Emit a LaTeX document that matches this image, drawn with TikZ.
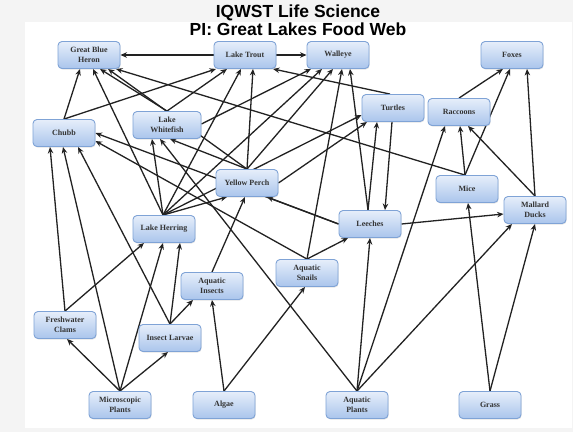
\documentclass[tikz,border=0pt]{standalone}
\usepackage{fontspec}
\setmainfont{Liberation Serif}
\newfontfamily\titlefont{Liberation Sans}
\usetikzlibrary{arrows.meta,shadows}
\definecolor{boxtop}{HTML}{E6EEFA}
\definecolor{boxbot}{HTML}{AAC5EC}
\definecolor{boxline}{HTML}{7FA3D6}
\definecolor{edgecol}{HTML}{222222}
\definecolor{txtcol}{HTML}{333333}
\definecolor{outside}{HTML}{F4F4F4}
\pgfdeclarelayer{back}
\pgfdeclarelayer{edges}
\pgfsetlayers{back,edges,main}
\begin{document}
\begin{tikzpicture}[x=1pt,y=-1pt,
  sp/.style={draw=boxline, line width=0.9pt, rounded corners=4pt,
    top color=boxtop, bottom color=boxbot, minimum width=62pt, minimum height=27pt,
    inner sep=1pt, align=center, font=\fontsize{8}{9.5}\selectfont\bfseries, text=txtcol,
    drop shadow={opacity=0.22, shadow xshift=0.6pt, shadow yshift=-1pt}},
  eat/.style={draw=edgecol, line width=1.3pt, -{Stealth[length=6.5pt,width=5.5pt]}},
  ttl/.style={anchor=base, font=\titlefont\bfseries\fontsize{17.5}{21}\selectfont, text=black}
]
\begin{pgfonlayer}{back}
\fill[outside] (0,0) rectangle (573,432);
\fill[white] (25,22) rectangle (572,428);
\end{pgfonlayer}
\useasboundingbox (0,0) rectangle (573,432);

\node[ttl] (t1) at (298,17) {IQWST Life Science};
\node[ttl] (t2) at (298,35) {PI: Great Lakes Food Web};

% nodes
\node[sp] (gbh) at (89,55) {Great Blue\\Heron};
\node[sp] (lt) at (245,55) {Lake Trout};
\node[sp] (wal) at (338,55) {Walleye};
\node[sp] (fox) at (512,55) {Foxes};
\node[sp] (chubb) at (64,133) {Chubb};
\node[sp, minimum width=68pt] (lw) at (167,125) {Lake\\Whitefish};
\node[sp] (tur) at (393,108) {Turtles};
\node[sp] (rac) at (459,112) {Raccoons};
\node[sp] (yp) at (247,183) {Yellow Perch};
\node[sp] (mice) at (467,189) {Mice};
\node[sp] (mal) at (535,210) {Mallard\\Ducks};
\node[sp] (leech) at (370,224) {Leeches};
\node[sp] (lh) at (164,229) {Lake Herring};
\node[sp] (snail) at (307,273) {Aquatic\\Snails};
\node[sp] (ai) at (212,286) {Aquatic\\Insects};
\node[sp] (fc) at (65,325) {Freshwater\\Clams};
\node[sp] (il) at (170,338) {Insect Larvae};
\node[sp] (mp) at (120,405) {Microscopic\\Plants};
\node[sp] (alg) at (224,405) {Algae};
\node[sp] (ap) at (357,405) {Aquatic\\Plants};
\node[sp] (grass) at (490,405) {Grass};

\begin{pgfonlayer}{edges}
% top row
\draw[eat] (lt.west) -- (gbh.east);
\draw[eat] (lt.east) -- (wal.west);
% into Great Blue Heron
\draw[eat] (chubb.north) -- ([xshift=-9pt]gbh.south);
\draw[eat] ([xshift=-1pt]lh.north) -- ([xshift=4pt]gbh.south);
\draw[eat] (lw.north) -- ([xshift=11pt]gbh.south);
\draw[eat] (yp.north) -- ([xshift=19pt]gbh.south);
\draw[eat] ([xshift=-2pt]mice.north) -- ([xshift=27pt]gbh.south);
% into Lake Trout
\draw[eat] (chubb.north) -- ([xshift=-29pt]lt.south);
\draw[eat] (lw.north) -- ([xshift=-18pt]lt.south);
\draw[eat] ([xshift=-1pt]lh.north) -- ([xshift=-4pt]lt.south);
\draw[eat] (yp.north) -- ([xshift=8pt]lt.south);
\draw[eat] ([xshift=-3pt]tur.north) -- ([xshift=28pt]lt.south);
% into Walleye
\draw[eat] ([yshift=1pt]lw.east) -- ([xshift=-27pt]wal.south);
\draw[eat] ([xshift=-1pt]lh.north) -- ([xshift=-16pt]wal.south);
\draw[eat] (yp.north) -- ([xshift=-5pt]wal.south);
\draw[eat] (snail.north) -- ([xshift=4pt]wal.south);
\draw[eat] ([xshift=-2pt]leech.north) -- ([xshift=12pt]wal.south);
% Turtles
\draw[eat] ([xshift=-2pt]leech.north) -- ([xshift=-16pt]tur.south);
\draw[eat] ([xshift=-1pt]tur.south) -- ([xshift=15pt]leech.north);
\draw[eat] (yp.east) -- ([xshift=-26pt]tur.south);
\draw[eat] ([xshift=-1pt]lh.north) -- ([yshift=-7pt]tur.west);
% Lake Whitefish
\draw[eat] ([xshift=-1pt]lh.north) -- ([xshift=-15pt]lw.south);
\draw[eat] (ap.north) -- ([xshift=-7pt]lw.south);
\draw[eat] (yp.north) -- ([xshift=3pt]lw.south);
% Yellow Perch
\draw[eat] ([xshift=-1pt]lh.north) -- ([xshift=-20pt]yp.south);
\draw[eat] (ai.north) -- ([xshift=-2pt]yp.south);
\draw[eat] (leech.west) -- ([xshift=20pt]yp.south);
% Chubb
\draw[eat] (leech.west) -- (chubb.east);
\draw[eat] (snail.north) -- ([yshift=-8pt]chubb.east);
\draw[eat] (fc.north) -- ([xshift=-14pt]chubb.south);
\draw[eat] (mp.north) -- ([xshift=-1pt]chubb.south);
\draw[eat] (il.north) -- ([xshift=14pt]chubb.south);
% Lake Herring
\draw[eat] (fc.north) -- ([xshift=-20pt]lh.south);
\draw[eat] (mp.north) -- ([xshift=-1pt]lh.south);
\draw[eat] (il.north) -- ([xshift=16pt]lh.south);
% small animals
\draw[eat] (il.north) -- ([xshift=-19pt]ai.south);
\draw[eat] (mp.north) -- ([xshift=2pt]fc.south);
\draw[eat] (mp.north) -- ([xshift=-2pt]il.south);
\draw[eat] (alg.north) -- (ai.south);
\draw[eat] (alg.north) -- ([xshift=-2pt]snail.south);
\draw[eat] (snail.north) -- ([xshift=-22pt]leech.south);
\draw[eat] (ap.north) -- (leech.south);
% right side
\draw[eat] (leech.east) -- ([yshift=-4pt]mal.west);
\draw[eat] (ap.north) -- ([xshift=-23pt]mal.south);
\draw[eat] (grass.north) -- (mal.south);
\draw[eat] (grass.north) -- ([xshift=1pt]mice.south);
\draw[eat] (ap.north) -- ([xshift=-14pt]rac.south);
\draw[eat] ([xshift=-2pt]mice.north) -- ([xshift=1pt]rac.south);
\draw[eat] (mal.north) -- ([xshift=9pt]rac.south);
\draw[eat] (rac.north) -- ([xshift=-9pt]fox.south);
\draw[eat] ([xshift=-2pt]mice.north) -- ([xshift=-2pt]fox.south);
\draw[eat] (mal.north) -- ([xshift=15pt]fox.south);
\end{pgfonlayer}
\end{tikzpicture}
\end{document}
